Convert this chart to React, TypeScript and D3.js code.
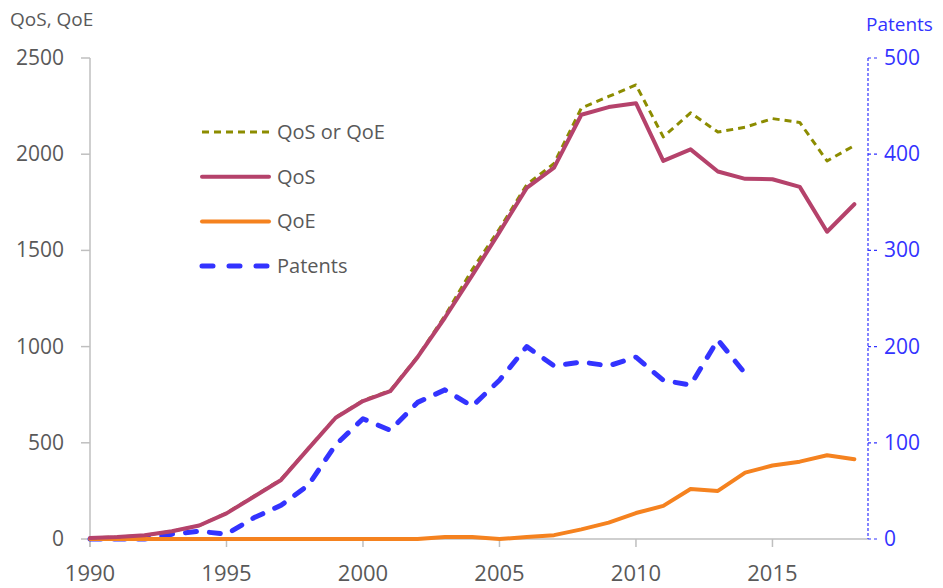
import React, { useEffect, useRef } from "react";
import * as d3 from "d3";

const years = d3.range(1990, 2019);
const qosOrQoe = [5, 10, 20, 40, 70, 135, 222, 310, 472, 632, 720, 772, 948, 1160, 1400, 1612, 1842, 1952, 2240, 2300, 2360, 2090, 2215, 2115, 2140, 2185, 2165, 1965, 2045];
const qos = [5, 10, 20, 40, 70, 133, 220, 307, 470, 630, 717, 768, 945, 1150, 1370, 1595, 1825, 1930, 2205, 2245, 2265, 1965, 2025, 1910, 1872, 1870, 1830, 1597, 1740];
const qoe = [0, 0, 0, 0, 0, 0, 0, 0, 0, 0, 0, 0, 0, 10, 10, 0, 10, 20, 50, 85, 135, 172, 260, 250, 345, 382, 402, 435, 415];
const patents = [0, 0, 0, 5, 8, 5, 22, 35, 56, 98, 125, 113, 142, 155, 138, 165, 200, 180, 184, 180, 189, 165, 160, 207, 172];
const leftTicks = [0, 500, 1000, 1500, 2000, 2500];
const rightTicks = [0, 100, 200, 300, 400, 500];
const xTicks = [1990, 1995, 2000, 2005, 2010, 2015];

function Chart() {
  const svgRef = useRef(null);

  useEffect(() => {
    const svg = d3.select(svgRef.current);
    svg.selectAll("*").remove();
    const font = "'Open Sans', 'Liberation Sans', sans-serif";
    const grey = "#595959";
    const blue = "#3333ff";
    const margin = { top: 58, right: 75, bottom: 49, left: 90 };
    const width = 943;
    const height = 588;

    const x = d3.scaleLinear().domain([1990, 2018.5]).range([margin.left, width - margin.right]);
    const yL = d3.scaleLinear().domain([0, 2500]).range([height - margin.bottom, margin.top]);
    const yR = d3.scaleLinear().domain([0, 500]).range([height - margin.bottom, margin.top]);
    const y0 = height - margin.bottom;
    const xr = width - margin.right;

    // left axis
    svg.append("line").attr("x1", margin.left).attr("x2", margin.left)
      .attr("y1", margin.top).attr("y2", y0 + 8).attr("stroke", "#bfbfbf").attr("stroke-width", 1.5);
    leftTicks.forEach((t) => {
      svg.append("line").attr("x1", margin.left - 9).attr("x2", margin.left)
        .attr("y1", yL(t)).attr("y2", yL(t)).attr("stroke", "#bfbfbf").attr("stroke-width", 1.5);
      svg.append("text").attr("x", 64).attr("y", yL(t) + 7).attr("text-anchor", "end")
        .attr("font-family", font).attr("font-size", 21).attr("fill", grey).text(t);
    });

    // bottom axis
    svg.append("line").attr("x1", margin.left).attr("x2", xr)
      .attr("y1", y0).attr("y2", y0).attr("stroke", "#bfbfbf").attr("stroke-width", 1.5);
    xTicks.forEach((t) => {
      svg.append("line").attr("x1", x(t)).attr("x2", x(t))
        .attr("y1", y0).attr("y2", y0 + 8).attr("stroke", "#bfbfbf").attr("stroke-width", 1.5);
      svg.append("text").attr("x", x(t)).attr("y", 581).attr("text-anchor", "middle")
        .attr("font-family", font).attr("font-size", 22).attr("fill", grey).text(t);
    });

    // right axis
    svg.append("line").attr("x1", xr).attr("x2", xr)
      .attr("y1", margin.top).attr("y2", y0).attr("stroke", blue).attr("stroke-width", 1.2)
      .attr("stroke-dasharray", "3,2");
    rightTicks.forEach((t) => {
      svg.append("line").attr("x1", xr).attr("x2", xr + 10)
        .attr("y1", yR(t)).attr("y2", yR(t)).attr("stroke", blue).attr("stroke-width", 1.2)
        .attr("stroke-dasharray", "3,3");
      svg.append("text").attr("x", 884).attr("y", yR(t) + 7).attr("text-anchor", "start")
        .attr("font-family", font).attr("font-size", 21).attr("fill", blue).text(t);
    });

    // axis titles
    svg.append("text").attr("x", 10).attr("y", 26).attr("font-family", font)
      .attr("font-size", 19).attr("fill", grey).text("QoS, QoE");
    svg.append("text").attr("x", 866).attr("y", 31).attr("font-family", font)
      .attr("font-size", 19).attr("fill", blue).text("Patents");

    const lineL = d3.line<number>().x((d, i) => x(years[i])).y((d) => yL(d));
    const lineR = d3.line<number>().x((d, i) => x(years[i])).y((d) => yR(d));

    const series = [
      { name: "QoS or QoE", data: qosOrQoe, gen: lineL, color: "#8c8c00", w: 3, dash: "7,5", cap: "butt" },
      { name: "QoS", data: qos, gen: lineL, color: "#b5426b", w: 4, dash: null, cap: "round" },
      { name: "QoE", data: qoe, gen: lineL, color: "#f5821f", w: 4, dash: null, cap: "round" },
      { name: "Patents", data: patents, gen: lineR, color: blue, w: 5, dash: "11,13", cap: "round" },
    ];

    // draw order: patents, qoe, qos-or-qoe, qos
    [series[3], series[2], series[0], series[1]].forEach((s) => {
      svg.append("path").datum(s.data).attr("fill", "none").attr("stroke", s.color)
        .attr("stroke-width", s.w).attr("stroke-linejoin", "round").attr("stroke-linecap", s.cap)
        .attr("stroke-dasharray", s.dash).attr("d", s.gen);
    });

    // legend
    series.forEach((s, i) => {
      const ly = 132 + i * 44.7;
      svg.append("line").attr("x1", 202).attr("x2", 269).attr("y1", ly).attr("y2", ly)
        .attr("stroke", s.color).attr("stroke-width", s.w).attr("stroke-linecap", s.cap)
        .attr("stroke-dasharray", s.name === "Patents" ? "11,16" : s.dash);
      svg.append("text").attr("x", 277).attr("y", ly + 7).attr("font-family", font)
        .attr("font-size", 20).attr("fill", grey).text(s.name);
    });
  }, []);

  return (
    <svg
      ref={svgRef}
      width={943}
      height={588}
      style={{ position: "absolute", top: 0, left: 0, display: "block" }}
    ></svg>
  );
}

export default function App() {
  return <Chart />;
}
